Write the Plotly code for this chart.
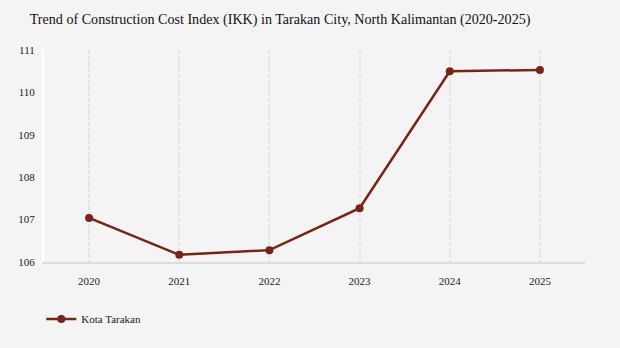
import plotly.graph_objects as go

years = [2020, 2021, 2022, 2023, 2024, 2025]
ikk = [107.04, 106.17, 106.28, 107.27, 110.50, 110.53]
series_name = "Kota Tarakan"
title_text = "Trend of Construction Cost Index (IKK) in Tarakan City, North Kalimantan (2020-2025)"
y_ticks = [106, 107, 108, 109, 110, 111]

color = "#7b2416"
font_family = "Liberation Serif"
tick_font = dict(family=font_family, size=11, color="#222")

fig = go.Figure()
fig.add_trace(go.Scatter(
    x=years, y=ikk, mode="lines+markers", name=series_name,
    line=dict(color=color, width=2.5),
    marker=dict(color=color, size=8),
))

fig.update_layout(
    width=620, height=348,
    paper_bgcolor="#f4f4f4", plot_bgcolor="#f4f4f4",
    font=dict(family=font_family, size=11, color="#222"),
    title=dict(text=title_text, x=0.048, xanchor="left", y=0.945, yanchor="middle",
               font=dict(family=font_family, size=14.1, color="#111")),
    margin=dict(l=44, r=35, t=50, b=86),
    showlegend=True,
    legend=dict(orientation="h", x=-0.005, xanchor="left", y=-0.2, yanchor="top",
                font=tick_font, bgcolor="rgba(0,0,0,0)"),
    xaxis=dict(range=[2019.5, 2025.5], tickvals=years, ticktext=[str(y) for y in years],
               tickfont=tick_font,
               showgrid=True, gridcolor="#e4e4e4", griddash="4px,2px", gridwidth=1.5,
               showline=True, linecolor="#dddddd", linewidth=1.5,
               ticks="", zeroline=False, ticklabelstandoff=8),
    yaxis=dict(range=[106, 111], tickvals=y_ticks, tickfont=tick_font,
               showgrid=False, zeroline=False,
               showline=True, linecolor="#ffffff", linewidth=2,
               ticks="outside", ticklen=5, tickcolor="#ffffff", tickwidth=1),
)

fig.write_html("out.html")
